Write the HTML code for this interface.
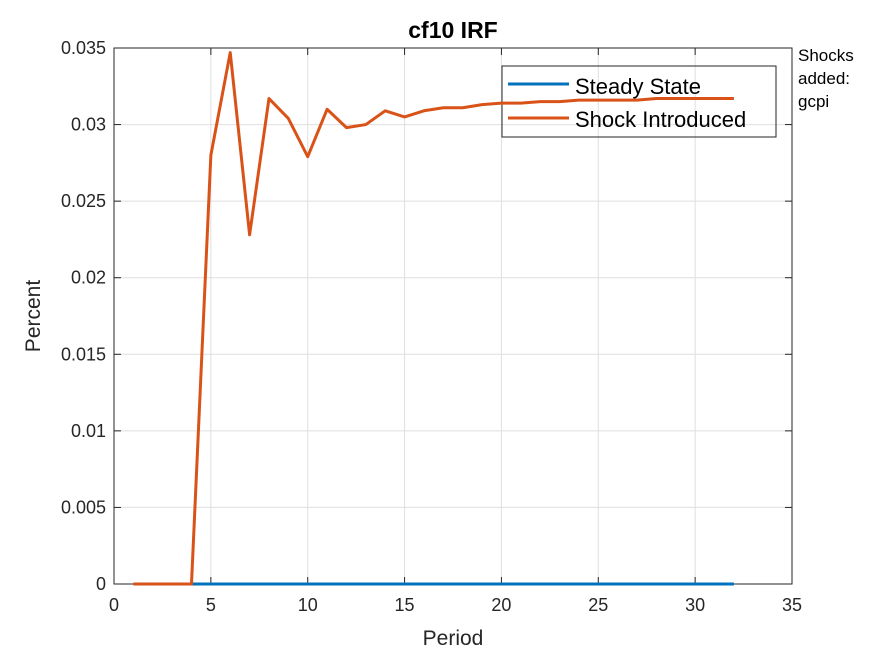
<!DOCTYPE html>
<html><head><meta charset="utf-8"><style>
body{margin:0;background:#fff;font-family:"Liberation Sans",sans-serif}
</style></head><body>
<svg id="chart" width="875" height="656" xmlns="http://www.w3.org/2000/svg" font-family="Liberation Sans, sans-serif"></svg>
<script>
const periods=[1,2,3,4,5,6,7,8,9,10,11,12,13,14,15,16,17,18,19,20,21,22,23,24,25,26,27,28,29,30,31,32];
const steadyState=periods.map(()=>0);
const shockValues=[0,0,0,0,0.0280,0.0347,0.0228,0.0317,0.0304,0.0279,0.0310,0.0298,0.0300,0.0309,0.0305,0.0309,0.0311,0.0311,0.0313,0.0314,0.0314,0.0315,0.0315,0.0316,0.0316,0.0316,0.0316,0.0317,0.0317,0.0317,0.0317,0.0317];
const xTicks=[0,5,10,15,20,25,30,35];
const yTicks=[0,0.005,0.01,0.015,0.02,0.025,0.03,0.035];
const yTickLabels=["0","0.005","0.01","0.015","0.02","0.025","0.03","0.035"];
const L=114,R=792,T=48,B=584;
const xs=v=>L+(v-0)/35*(R-L);
const ys=v=>B-v/0.035*(B-T);
const svg=document.getElementById('chart');
const NS='http://www.w3.org/2000/svg';
function mk(tag,attrs,name){const e=document.createElementNS(NS,tag);for(const k in attrs)e.setAttribute(k,attrs[k]);


svg.appendChild(e);return e;}
mk('rect',{x:L,y:T,width:R-L,height:B-T,fill:'#fff'},'plot-area');
xTicks.forEach(t=>{mk('line',{x1:xs(t),x2:xs(t),y1:T,y2:B,stroke:'#dfdfdf'},'x-grid-line');});
yTicks.forEach(t=>{mk('line',{x1:L,x2:R,y1:ys(t),y2:ys(t),stroke:'#dfdfdf'},'y-grid-line');});
mk('rect',{x:L,y:T,width:R-L,height:B-T,fill:'none',stroke:'#262626','stroke-width':1},'axes-box');
xTicks.forEach(t=>{const x=xs(t);
mk('line',{x1:x,x2:x,y1:B,y2:B-7,stroke:'#262626'},'x-tick');
mk('line',{x1:x,x2:x,y1:T,y2:T+7,stroke:'#262626'},'x-tick-top');
const tx=mk('text',{x:x,y:B+27,'text-anchor':'middle','font-size':18,fill:'#262626'},'x-tick-label');tx.textContent=t;});
yTicks.forEach((t,i)=>{const y=ys(t);
mk('line',{x1:L,x2:L+7,y1:y,y2:y,stroke:'#262626'},'y-tick');
mk('line',{x1:R,x2:R-7,y1:y,y2:y,stroke:'#262626'},'y-tick-right');
const tx=mk('text',{x:L-8,y:y+6,'text-anchor':'end','font-size':18,fill:'#262626'},'y-tick-label');tx.textContent=yTickLabels[i];});
mk('rect',{x:502,y:66,width:274,height:71,fill:'none',stroke:'#262626'},'legend-box');
mk('line',{x1:508,x2:569,y1:84,y2:84,stroke:'#0072bd','stroke-width':3},'legend-steady-swatch');
let t=mk('text',{x:575,y:94,'font-size':22,fill:'#000'},'legend-steady-label');t.textContent='Steady State';
mk('line',{x1:508,x2:569,y1:118,y2:118,stroke:'#d95319','stroke-width':3},'legend-shock-swatch');
t=mk('text',{x:575,y:127,'font-size':22,fill:'#000'},'legend-shock-label');t.textContent='Shock Introduced';
const pts=a=>periods.map((p,i)=>xs(p)+','+ys(a[i])).join(' ');
mk('polyline',{points:pts(steadyState),fill:'none',stroke:'#0072bd','stroke-width':3},'steady-state-line');
mk('polyline',{points:pts(shockValues),fill:'none',stroke:'#d95319','stroke-width':3,'stroke-linejoin':'round'},'shock-introduced-line');
t=mk('text',{x:453,y:38,'text-anchor':'middle','font-size':23,'font-weight':'bold',fill:'#000'},'chart-title');t.textContent='cf10 IRF';
t=mk('text',{x:453,y:645,'text-anchor':'middle','font-size':21,fill:'#262626'},'x-axis-title');t.textContent='Period';
t=mk('text',{x:40,y:316,'text-anchor':'middle','font-size':21,fill:'#262626',transform:'rotate(-90 40 316)'},'y-axis-title');t.textContent='Percent';
['Shocks','added:','gcpi'].forEach((s,i)=>{const e=mk('text',{x:798,y:61+i*23,'font-size':17,fill:'#000'},'shocks-annotation');e.textContent=s;});
</script>
</body></html>
